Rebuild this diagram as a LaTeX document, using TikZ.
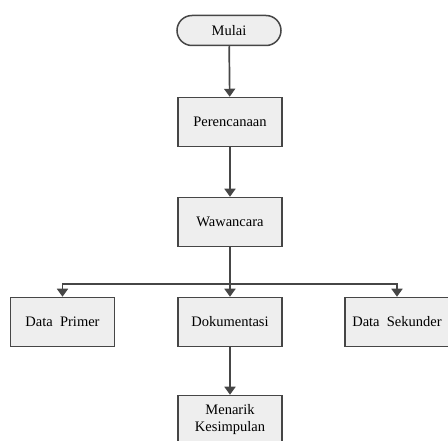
\documentclass[tikz,border=0pt]{standalone}
\usepackage{fontspec}
\setmainfont{Liberation Serif}
\usepackage{tikz}
\usetikzlibrary{arrows.meta}

\definecolor{garisabu}{RGB}{70,70,70}
\definecolor{isiabu}{RGB}{238,238,238}

\tikzset{
    flowbox/.style={draw=garisabu, line width=1.5pt, minimum width=104pt, minimum height=49pt,
        fill=isiabu, align=center, inner sep=2pt,
        font=\fontsize{14.5}{17}\selectfont},
    terminal/.style={flowbox, minimum height=30pt, rounded corners=15pt},
    flowline/.style={draw=garisabu, line width=1.7pt,
        -{Triangle[width=11pt,length=8pt,fill=garisabu]}}
}

\begin{document}
\begin{tikzpicture}
        \path[use as bounding box] (0,0) rectangle (448pt,440pt);
        % Mulai
        \node[terminal] (mulai) at (229pt, 409.5pt) {Mulai};
        % Perencanaan and Wawancara
        \node[flowbox] (perencanaan) at (230pt, 318pt) {Perencanaan};
        \node[flowbox] (wawancara) at (230pt, 218pt) {Wawancara};

        % Data Primer, Dokumentasi and Data Sekunder
        \node[flowbox] (primer) at (62.5pt, 118pt) {Data\ \ Primer};
        \node[flowbox] (dokumentasi) at (230pt, 118pt) {Dokumentasi};
        \node[flowbox] (sekunder) at (397pt, 118pt) {Data\ \ Sekunder};

        % Menarik Kesimpulan
        \node[flowbox] (kesimpulan) at (230pt, 20pt) {Menarik\\Kesimpulan};

        \coordinate (cabang) at (230pt, 156pt);
        \draw[flowline] (mulai) -- (perencanaan);
        \draw[flowline] (perencanaan) -- (wawancara);
        \draw[flowline] (wawancara) -- (dokumentasi);
        \draw[flowline] (cabang) -| (primer);
        \draw[flowline] (cabang) -| (sekunder);
        \draw[flowline] (dokumentasi) -- (kesimpulan);
    \end{tikzpicture}
\end{document}
